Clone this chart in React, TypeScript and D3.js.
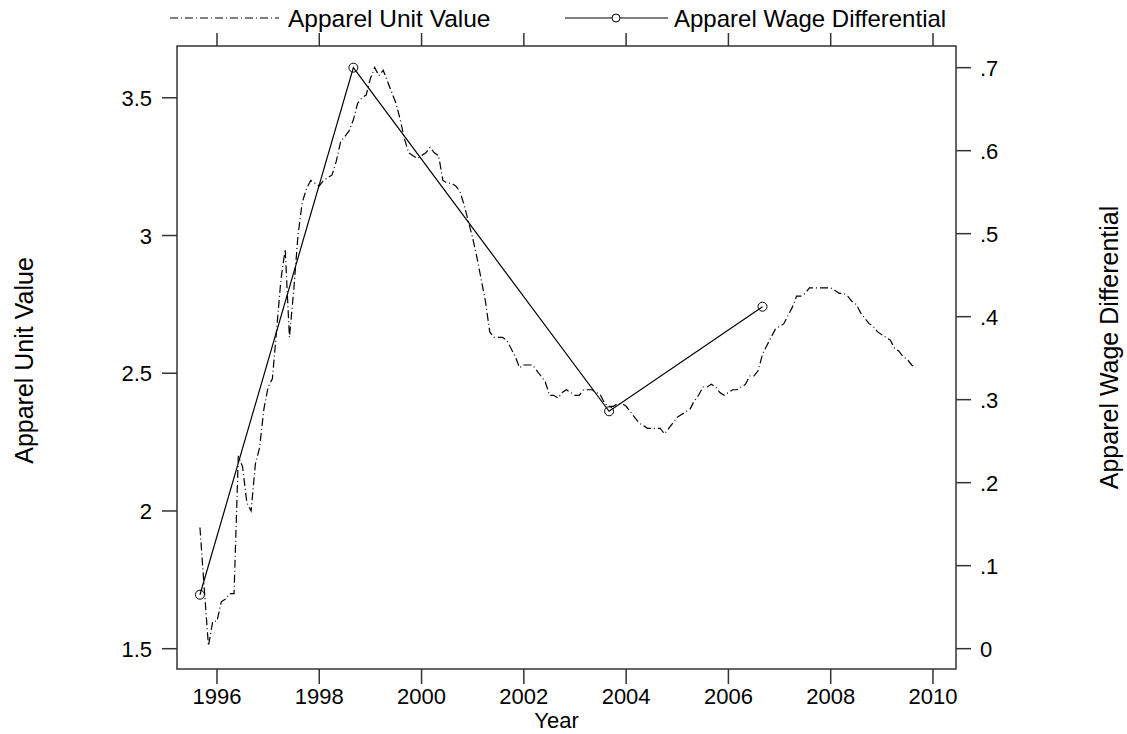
import React from 'react';
import * as d3 from 'd3';

// monthly series, first observation Sep 1995
const startYear = 1995 + 8 / 12;
const unitValue = [
  1.94, 1.72, 1.51, 1.60, 1.60, 1.67, 1.68, 1.70, 1.70, 2.20, 2.16, 2.03,
  2.00, 2.17, 2.23, 2.37, 2.45, 2.48, 2.66, 2.84, 2.95, 2.63, 2.80, 3.00,
  3.12, 3.17, 3.20, 3.19, 3.18, 3.20, 3.21, 3.22, 3.27, 3.34, 3.36, 3.38,
  3.42, 3.48, 3.50, 3.51, 3.57, 3.61, 3.58, 3.60, 3.56, 3.52, 3.48, 3.42,
  3.35, 3.30, 3.29, 3.28, 3.29, 3.30, 3.32, 3.30, 3.29, 3.20, 3.19, 3.19,
  3.18, 3.16, 3.11, 3.05, 2.99, 2.92, 2.84, 2.76, 2.65, 2.63, 2.63, 2.63,
  2.62, 2.59, 2.56, 2.52, 2.53, 2.53, 2.53, 2.51, 2.49, 2.47, 2.42, 2.42,
  2.41, 2.43, 2.44, 2.43, 2.42, 2.42, 2.44, 2.44, 2.44, 2.43, 2.42, 2.39,
  2.38, 2.38, 2.39, 2.39, 2.38, 2.36, 2.34, 2.32, 2.31, 2.30, 2.30, 2.30,
  2.30, 2.28, 2.30, 2.32, 2.34, 2.35, 2.36, 2.37, 2.40, 2.42, 2.45, 2.45,
  2.46, 2.45, 2.43, 2.42, 2.43, 2.44, 2.44, 2.45, 2.46, 2.49, 2.49, 2.51,
  2.57, 2.60, 2.63, 2.66, 2.67, 2.68, 2.71, 2.74, 2.78, 2.78, 2.79, 2.81,
  2.81, 2.81, 2.81, 2.81, 2.81, 2.80, 2.79, 2.79, 2.78, 2.76, 2.75, 2.72,
  2.70, 2.68, 2.67, 2.65, 2.64, 2.63, 2.62, 2.59, 2.58, 2.56, 2.55, 2.53,
  2.52,
];

const wageYears = [1995 + 8 / 12, 1998 + 8 / 12, 2003 + 8 / 12, 2006 + 8 / 12];
const wageDiff = [0.065, 0.70, 0.286, 0.412];

const xTicks = [1996, 1998, 2000, 2002, 2004, 2006, 2008, 2010];
const leftTicks = [1.5, 2, 2.5, 3, 3.5];
const leftLabels = ['1.5', '2', '2.5', '3', '3.5'];
const rightTicks = [0, 0.1, 0.2, 0.3, 0.4, 0.5, 0.6, 0.7];
const rightLabels = ['0', '.1', '.2', '.3', '.4', '.5', '.6', '.7'];

const W = 1127;
const H = 734;
const left = 177, right = 956, top = 46, bottom = 669;
const font = '"Liberation Sans", Arial, sans-serif';
const dash = '8 3 1 3';

export default function App() {
  const x = d3.scaleLinear().domain([1995.218, 2010.45]).range([left, right]);
  const yL = d3.scaleLinear().domain([1.4263, 3.688]).range([bottom, top]);
  const yR = d3.scaleLinear().domain([-0.0245, 0.7261]).range([bottom, top]);

  const uvLine = d3.line<number>()
    .x((d, i) => x(startYear + i / 12))
    .y(d => yL(d));
  const wLine = d3.line<number>()
    .x((d, i) => x(wageYears[i]))
    .y(d => yR(d));

  return (
    <svg width={W} height={H} style={{ position: 'absolute', left: 0, top: 0, background: '#fff' }}
      fontFamily={font}>
      <rect x={0} y={0} width={W} height={H} fill="#fff" />

      {/* legend */}
      <line x1={170} x2={279} y1={18} y2={18} stroke="#000" strokeWidth={1.2} strokeDasharray={dash} />
      <text x={288} y={27} fontSize={24.5}>Apparel Unit Value</text>
      <line x1={565} x2={668} y1={18} y2={18} stroke="#000" strokeWidth={1.2} />
      <circle cx={616} cy={18} r={4} fill="#fff" stroke="#000" strokeWidth={1} />
      <text x={674} y={27} fontSize={24}>Apparel Wage Differential</text>

      {/* plot region */}
      <rect x={left} y={top} width={right - left} height={bottom - top} fill="none" stroke="#333" strokeWidth={1.5} />

      {xTicks.map(t => (
        <g key={t}>
          <line x1={x(t)} x2={x(t)} y1={bottom} y2={bottom + 15} stroke="#333" strokeWidth={1.5} />
          <line x1={x(t)} x2={x(t)} y1={top} y2={top - 13} stroke="#333" strokeWidth={1.5} />
          <text x={x(t)} y={bottom + 35} fontSize={22} textAnchor="middle">{t}</text>
        </g>
      ))}
      <text x={(left + right) / 2 - 10} y={728} fontSize={22} textAnchor="middle">Year</text>

      {leftTicks.map((t, i) => (
        <g key={t}>
          <line x1={left - 15} x2={left} y1={yL(t)} y2={yL(t)} stroke="#333" strokeWidth={1.5} />
          <text x={152} y={yL(t) + 8} fontSize={22} textAnchor="end">{leftLabels[i]}</text>
        </g>
      ))}
      {rightTicks.map((t, i) => (
        <g key={t}>
          <line x1={right} x2={right + 15} y1={yR(t)} y2={yR(t)} stroke="#333" strokeWidth={1.5} />
          <text x={980} y={yR(t) + 8} fontSize={22}>{rightLabels[i]}</text>
        </g>
      ))}

      <text transform={`translate(33,${(top + bottom) / 2 + 3}) rotate(-90)`} fontSize={25} textAnchor="middle">
        Apparel Unit Value
      </text>
      <text transform={`translate(1118,${(top + bottom) / 2 - 10}) rotate(-90)`} fontSize={25} textAnchor="middle">
        Apparel Wage Differential
      </text>

      <path d={uvLine(unitValue) || ''} fill="none" stroke="#000" strokeWidth={1.2} strokeDasharray={dash} />
      <path d={wLine(wageDiff) || ''} fill="none" stroke="#000" strokeWidth={1.2} />
      {wageDiff.map((d, i) => (
        <circle key={i} cx={x(wageYears[i])} cy={yR(d)} r={4.5} fill="none" stroke="#000" strokeWidth={1} />
      ))}
    </svg>
  );
}
